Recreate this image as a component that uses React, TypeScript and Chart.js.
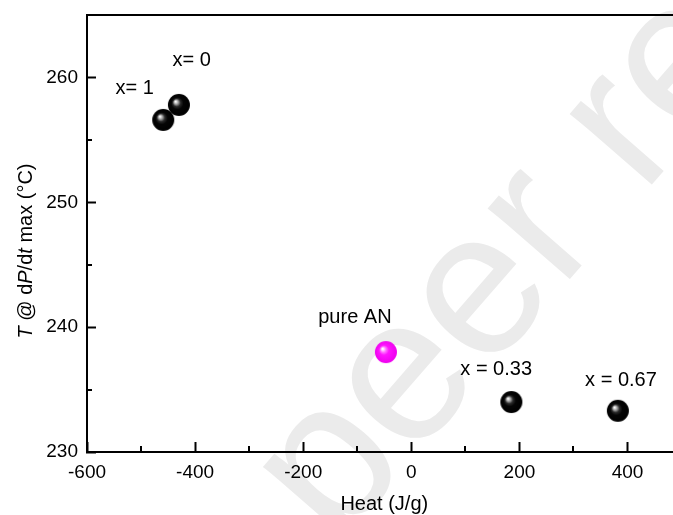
import { useEffect, useRef } from 'react';
import { Chart, registerables } from 'chart.js';

Chart.register(...registerables);

// Decomposition heat vs. temperature at maximum pressurisation rate
const sampleHeat = [-459, -430, 185, 382];
const sampleTemp = [256.6, 257.8, 234.0, 233.3];
const sampleNames = ['x= 1', 'x= 0', 'x = 0.33', 'x = 0.67'];

const pureHeat = [-47];
const pureTemp = [238.0];
const pureNames = ['pure AN'];

// Axis ranges and tick layout
const xRange = [-600, 500];
const xStep = 200;
const xMinorTicks = [-500, -300, -100, 100, 300];
const yRange = [230, 265];
const yStep = 10;
const yMinorTicks = [235, 245, 255];

const xTitle = 'Heat (J/g)';
// y title pieces: [text, italic]
const yTitleParts: [string, boolean][] = [
  ['T', true],
  [' @ d', false],
  ['P', true],
  ['/d', false],
  ['t', true],
  [' max (°C)', false],
];
const watermarkText = 'For peer review only';

const FONT = "'Liberation Sans', Arial, sans-serif";
const CANVAS_W = 700;
const CANVAS_H = 515;
const PLOT = { left: 87, right: 681.6, top: 15, bottom: 452 };

// label placement relative to each marker (left edge, baseline)
const sampleLabelOffsets = [
  [-47.6, -25.7],
  [-6.3, -39.3],
  [-51, -26.7],
  [-32.7, -25],
];
const pureLabelOffsets = [[-67.7, -29]];

function makeBall(stops: [number, string][], r: number): HTMLCanvasElement {
  const size = r * 2 + 2;
  const c = document.createElement('canvas');
  c.width = size;
  c.height = size;
  const g = c.getContext('2d')!;
  const cx = size / 2;
  const cy = size / 2;
  const grad = g.createRadialGradient(cx - r * 0.32, cy - r * 0.32, 0, cx, cy, r);
  stops.forEach(([o, col]) => grad.addColorStop(o, col));
  g.fillStyle = grad;
  g.beginPath();
  g.arc(cx, cy, r, 0, Math.PI * 2);
  g.fill();
  return c;
}

const decorPlugin = {
  id: 'decor',
  beforeDraw(chart: any) {
    const ctx = chart.ctx as CanvasRenderingContext2D;
    // faint diagonal watermark
    ctx.save();
    ctx.fillStyle = '#ebebeb';
    ctx.font = `205px ${FONT}`;
    ctx.textBaseline = 'alphabetic';
    ctx.textAlign = 'left';
    ctx.translate(336, 548);
    ctx.rotate((-49 * Math.PI) / 180);
    const lead = ctx.measureText('For ').width;
    ctx.fillText(watermarkText, -lead, 0);
    ctx.restore();
  },
  afterDraw(chart: any) {
    const ctx = chart.ctx as CanvasRenderingContext2D;
    const { left, right, top, bottom } = chart.chartArea;
    const xs = chart.scales.x;
    const ys = chart.scales.y;
    ctx.save();
    ctx.strokeStyle = '#000';
    ctx.lineWidth = 2;
    // frame top line
    ctx.beginPath();
    ctx.moveTo(left - 1, top);
    ctx.lineTo(right + 1, top);
    ctx.stroke();
    // minor ticks, pointing inward
    ctx.beginPath();
    xMinorTicks.forEach((v) => {
      const px = Math.round(xs.getPixelForValue(v));
      ctx.moveTo(px, bottom);
      ctx.lineTo(px, bottom - 6);
    });
    yMinorTicks.forEach((v) => {
      const py = Math.round(ys.getPixelForValue(v));
      ctx.moveTo(left, py);
      ctx.lineTo(left + 5, py);
    });
    ctx.stroke();

    ctx.fillStyle = '#000';
    // x title
    ctx.font = `20px ${FONT}`;
    ctx.textAlign = 'center';
    ctx.textBaseline = 'alphabetic';
    ctx.fillText(xTitle, (left + right) / 2, 510);

    // y title with italic symbols
    const fontFor = (it: boolean) => `${it ? 'italic ' : ''}20px ${FONT}`;
    let total = 0;
    const widths = yTitleParts.map(([t, it]) => {
      ctx.font = fontFor(it);
      const w = ctx.measureText(t).width;
      total += w;
      return w;
    });
    ctx.translate(32, 251);
    ctx.rotate(-Math.PI / 2);
    ctx.textAlign = 'left';
    let x = -total / 2;
    yTitleParts.forEach(([t, it], i) => {
      ctx.font = fontFor(it);
      ctx.fillText(t, x, 0);
      x += widths[i];
    });
    ctx.restore();
  },
  afterDatasetsDraw(chart: any) {
    const ctx = chart.ctx as CanvasRenderingContext2D;
    ctx.save();
    ctx.fillStyle = '#000';
    ctx.font = `20px ${FONT}`;
    ctx.textAlign = 'left';
    ctx.textBaseline = 'alphabetic';
    const groups: [string[], number[][]][] = [
      [sampleNames, sampleLabelOffsets],
      [pureNames, pureLabelOffsets],
    ];
    groups.forEach(([names, offs], di) => {
      const meta = chart.getDatasetMeta(di);
      meta.data.forEach((pt: any, i: number) => {
        ctx.fillText(names[i], pt.x + offs[i][0], pt.y + offs[i][1]);
      });
    });
    ctx.restore();
  },
};

export default function App() {
  const canvasRef = useRef<HTMLCanvasElement | null>(null);

  useEffect(() => {
    const canvas = canvasRef.current;
    if (!canvas) return;
    const blackBall = makeBall(
      [
        [0, '#ffffff'],
        [0.08, '#e6e6e6'],
        [0.22, '#909090'],
        [0.36, '#2a2a2a'],
        [0.55, '#050505'],
        [1, '#000000'],
      ],
      11
    );
    const pinkBall = makeBall(
      [
        [0, '#ffffff'],
        [0.09, '#ffe2ff'],
        [0.26, '#ff70ff'],
        [0.45, '#ff14ff'],
        [1, '#ee00ee'],
      ],
      11
    );

    // pins the plot rectangle so axis pixels stay fixed
    const pinArea = {
      id: 'pinArea',
      afterLayout(chart: any) {
        const ca = chart.chartArea;
        ca.left = PLOT.left;
        ca.right = PLOT.right;
        ca.top = PLOT.top;
        ca.bottom = PLOT.bottom;
        ca.width = PLOT.right - PLOT.left;
        ca.height = PLOT.bottom - PLOT.top;
        const xs = chart.scales.x;
        const ys = chart.scales.y;
        xs.left = PLOT.left;
        xs.right = PLOT.right;
        xs.width = PLOT.right - PLOT.left;
        xs.top = PLOT.bottom;
        xs.bottom = CANVAS_H;
        xs.height = CANVAS_H - PLOT.bottom;
        ys.top = PLOT.top;
        ys.bottom = PLOT.bottom;
        ys.height = PLOT.bottom - PLOT.top;
        ys.left = 0;
        ys.right = PLOT.left;
        ys.width = PLOT.left;
        xs.configure();
        ys.configure();
      },
    };

    const chart = new Chart(canvas, {
      type: 'scatter',
      data: {
        datasets: [
          {
            data: sampleHeat.map((h, i) => ({ x: h, y: sampleTemp[i] })),
            pointStyle: blackBall as any,
            pointRadius: 11,
          },
          {
            data: pureHeat.map((h, i) => ({ x: h, y: pureTemp[i] })),
            pointStyle: pinkBall as any,
            pointRadius: 11,
          },
        ],
      },
      options: {
        animation: false,
        responsive: false,
        devicePixelRatio: 1,
        layout: { padding: { left: 0, top: 15, right: CANVAS_W - PLOT.right, bottom: 0 } },
        plugins: { legend: { display: false }, tooltip: { enabled: false } },
        scales: {
          x: {
            type: 'linear',
            min: xRange[0],
            max: xRange[1],
            grid: {
              drawOnChartArea: false,
              drawTicks: true,
              tickLength: -10,
              tickWidth: 2,
              tickColor: '#000',
            },
            border: { display: true, color: '#000', width: 2 },
            ticks: {
              stepSize: xStep,
              includeBounds: false,
              color: '#000',
              padding: 19,
              maxRotation: 0,
              font: { family: FONT, size: 19 },
            },
          },
          y: {
            type: 'linear',
            min: yRange[0],
            max: yRange[1],
            grid: {
              drawOnChartArea: false,
              drawTicks: true,
              tickLength: -9,
              tickWidth: 2,
              tickColor: '#000',
            },
            border: { display: true, color: '#000', width: 2 },
            ticks: {
              stepSize: yStep,
              includeBounds: false,
              color: '#000',
              padding: 18,
              font: { family: FONT, size: 19 },
            },
          },
        },
      },
      plugins: [pinArea, decorPlugin],
    });
    return () => chart.destroy();
  }, []);

  return (
    <div
      style={{
        position: 'fixed',
        left: 0,
        top: 0,
        width: 673,
        height: 515,
        overflow: 'hidden',
        background: '#fff',
      }}
    >
      <canvas
        ref={canvasRef}
        width={CANVAS_W}
        height={CANVAS_H}
        style={{ display: 'block', width: CANVAS_W, height: CANVAS_H }}
      />
    </div>
  );
}
